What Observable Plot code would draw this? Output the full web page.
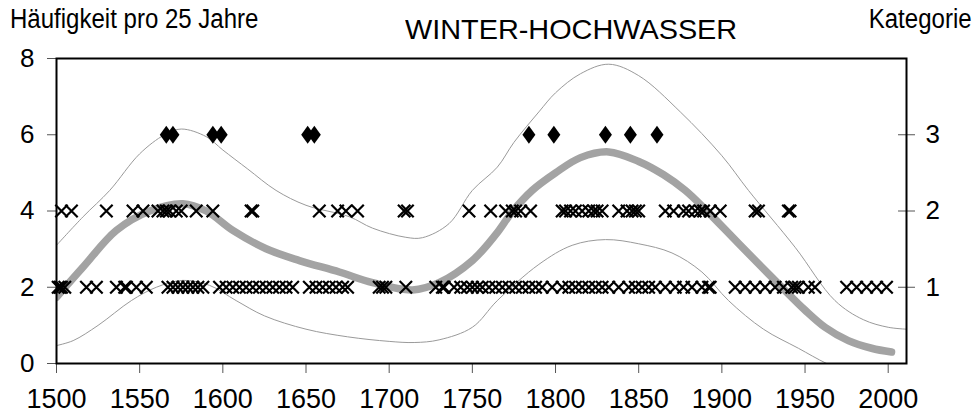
<!DOCTYPE html>
<html><head><meta charset="utf-8">
<script src="https://cdn.jsdelivr.net/npm/d3@7"></script>
<script src="https://cdn.jsdelivr.net/npm/@observablehq/plot@0.6"></script>
<style>
body{margin:0;background:#fff;font-family:"Liberation Sans",Arial,sans-serif;}
#wrap{position:relative;width:973px;height:418px;overflow:hidden;}
#head{position:relative;height:40px;}
.t{position:absolute;font-size:27px;color:#000;white-space:nowrap;line-height:1;}
</style></head><body>
<div id="wrap">
<div id="head">
<span class="t" style="left:10px;top:6px;transform:scaleX(0.89);transform-origin:left top">Häufigkeit pro 25 Jahre</span>
<span class="t" style="left:405px;top:16px;font-size:28px;transform:scaleX(1.03);transform-origin:left top">WINTER-HOCHWASSER</span>
<span class="t" style="right:1px;top:6px;transform:scaleX(0.89);transform-origin:right top">Kategorie</span>
</div>
<div id="chart"></div>
</div>
<script>
// Category 1 events (plotted at frequency level 2)
const cat1Years = [1501,1502,1503,1505,1518,1524,1536,1541,1542,1548,1554,1567,1570,1573,1576,1579,1582,1585,1588,1598,1602,1606,1610,1614,1618,1622,1626,1630,1634,1638,1642,1652,1656,1660,1664,1668,1672,1675,1694,1696,1698,1710,1728,1732,1733,1739,1743,1747,1750,1753,1756,1760,1764,1768,1772,1776,1780,1784,1788,1792,1798,1804,1808,1812,1816,1820,1824,1828,1832,1838,1844,1848,1852,1856,1860,1866,1872,1877,1882,1888,1892,1893,1908,1914,1920,1926,1932,1937,1942,1944,1946,1952,1956,1975,1981,1987,1993,1999];
// Category 2 events (level 4)
const cat2Years = [1503,1509,1530,1546,1552,1561,1564,1566,1568,1572,1575,1584,1594,1617,1618,1658,1669,1674,1681,1709,1711,1748,1761,1770,1774,1776,1779,1785,1804,1806,1809,1812,1816,1820,1823,1825,1828,1838,1843,1846,1848,1850,1866,1871,1877,1880,1884,1887,1889,1893,1899,1920,1922,1940,1941];
// Category 3 events (level 6)
const cat3Years = [1566,1570,1594,1599,1651,1655,1784,1799,1830,1845,1861];

// Smoothed frequency (thick grey line)
const meanYears = [1500,1516,1536,1556,1576,1590,1606,1626,1646,1670,1690,1714,1730,1750,1764,1774,1786,1800,1815,1832,1850,1865,1878,1891,1910,1936,1950,1962,1976,1990,2002];
const meanVals  = [1.74,2.53,3.49,4.0,4.19,4.0,3.49,3.01,2.70,2.40,2.12,1.93,2.12,2.70,3.38,3.98,4.54,5.0,5.4,5.55,5.3,4.95,4.54,4.0,3.15,2.0,1.4,0.95,0.6,0.4,0.3];
// Upper band (thin grey)
const upperYears = [1500,1516,1532,1550,1565,1575,1590,1600,1615,1632,1650,1676,1690,1710,1720,1736,1750,1765,1775,1790,1800,1815,1832,1850,1875,1900,1916,1944,1968,1985,2000,2011];
const upperVals  = [3.1,3.85,4.54,5.5,6.0,6.15,5.95,5.6,5.1,4.54,4.15,3.85,3.55,3.31,3.3,3.67,4.54,5.15,5.8,6.6,7.1,7.6,7.85,7.55,6.6,5.45,4.54,3.05,1.65,1.15,0.95,0.9];
// Lower band (thin grey)
const lowerYears = [1500,1510,1525,1545,1560,1576,1592,1608,1625,1650,1675,1700,1715,1730,1750,1765,1790,1810,1830,1850,1870,1888,1904,1925,1946,1963,1980,2000,2011];
const lowerVals  = [0.47,0.6,1.0,1.65,2.0,2.18,2.05,1.65,1.25,0.9,0.7,0.58,0.55,0.62,0.95,1.65,2.6,3.1,3.25,3.14,2.9,2.4,1.65,0.9,0.4,0,-0.3,-0.35,-0.35];

const xTicks = [1500,1550,1600,1650,1700,1750,1800,1850,1900,1950,2000];
const yTicks = [0,2,4,6,8];
const catTicks = [2,4,6];
const catLabels = ["1","2","3"];

const zip = (xs, ys) => xs.map((x, i) => ({x, y: ys[i]}));
const mean = zip(meanYears, meanVals);
const upper = zip(upperYears, upperVals);
const lower = zip(lowerYears, lowerVals);
const c1 = cat1Years.map(x => ({x, y: 2}));
const c2 = cat2Years.map(x => ({x, y: 4}));
const c3 = cat3Years.map(x => ({x, y: 6}));

const tallDiamond = {draw(ctx) { const w = 6.5, h = 9; ctx.moveTo(0, -h); ctx.lineTo(w, 0); ctx.lineTo(0, h); ctx.lineTo(-w, 0); ctx.closePath(); }};

const chart = Plot.plot({
  width: 973, height: 378,
  marginTop: 18, marginBottom: 55, marginLeft: 56, marginRight: 67,
  style: {fontFamily: "'Liberation Sans', Arial, sans-serif", background: "white"},
  x: {domain: [1500, 2011]},
  y: {domain: [0, 8]},
  marks: [
    Plot.line(upper, {x: "x", y: "y", stroke: "#9a9a9a", strokeWidth: 1, curve: "catmull-rom", clip: true}),
    Plot.line(lower, {x: "x", y: "y", stroke: "#9a9a9a", strokeWidth: 1, curve: "catmull-rom", clip: true}),
    Plot.line(mean, {x: "x", y: "y", stroke: "#a3a3a3", strokeWidth: 7.5, curve: "catmull-rom", clip: true}),
    Plot.dot(c1, {x: "x", y: "y", symbol: "times", r: 5.7, stroke: "black", strokeWidth: 2.2}),
    Plot.dot(c2, {x: "x", y: "y", symbol: "times", r: 5.7, stroke: "black", strokeWidth: 2.2}),
    Plot.dot(c3, {x: "x", y: "y", symbol: tallDiamond, fill: "black", stroke: "none"}),
    Plot.axisY({ticks: yTicks, tickSize: 9, tickPadding: 13, fontSize: 26, stroke: "#555", fill: "black", label: null, tickFormat: d => d}),
    Plot.axisY({anchor: "right", ticks: catTicks, tickSize: 8, tickPadding: 11, fontSize: 26, stroke: "#555", fill: "black", label: null, tickFormat: d => catLabels[catTicks.indexOf(d)]}),
    Plot.ruleY(catTicks, {x1: 2006.2, x2: 2011, stroke: "#555"}),
    Plot.axisX({ticks: xTicks, tickSize: 10, tickPadding: 15, fontSize: 27, stroke: "#555", fill: "black", label: null, tickFormat: d => String(d)}),
    Plot.frame({stroke: "black", strokeWidth: 2})
  ]
});
document.getElementById("chart").appendChild(chart);
</script>
</body></html>
